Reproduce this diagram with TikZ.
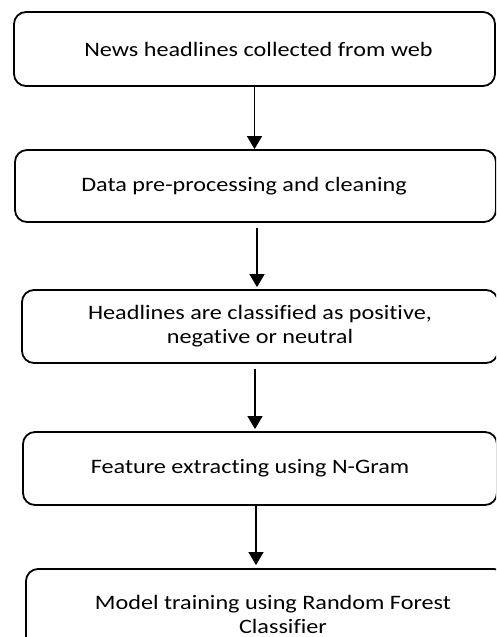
\documentclass[tikz,border=0pt]{standalone}
\usepackage{fontspec}
\setmainfont[FakeStretch=1.18,RawFeature={-liga}]{Carlito}
\usetikzlibrary{arrows.meta}
\tikzset{%
  stepbox/.style = {shape=rectangle, rounded corners=12pt,%
                    draw, line width=1.8pt, align=center, inner sep=0pt,%
                    font=\fontsize{20.5}{24}\selectfont},%
  flow/.style    = {-{Triangle[width=15pt,length=13pt]}, line width=1.1pt}%
}

\begin{document}
\begin{tikzpicture}[x=1pt,y=-1pt]
	\useasboundingbox (0,0) rectangle (496,637);
	\clip (0,0) rectangle (496,637);
	% the five steps
	\node [stepbox, minimum width=481pt, minimum height=74pt] (news) at (254.5,49)
		{\hspace*{8pt}News headlines collected from web};
	\node [stepbox, minimum width=481pt, minimum height=72pt] (clean) at (255.5,186)
		{Data pre-processing and cleaning\hspace*{23pt}};
	\node [stepbox, minimum width=476pt, minimum height=73pt] (classify) at (260,326.5)
		{Headlines are classified as positive,\\ negative or neutral};
	\node [stepbox, minimum width=474pt, minimum height=73pt] (ngram) at (260,468.5)
		{Feature extracting using N-Gram\hspace*{20pt}};
	\node [stepbox, minimum width=480pt, minimum height=90pt] (forest) at (266,614)
		{\hspace*{14pt}Model training using Random Forest\\ \hspace*{34pt}Classifier};
	% arrows between them
	\draw [flow] (news.south) -- (news.south |- clean.north);
	\draw [flow] ([xshift=1.5pt,yshift=-5pt]clean.south) -- ([xshift=1.5pt,yshift=2pt]clean.south |- classify.north);
	\draw [flow] ([xshift=-5pt,yshift=-5pt]classify.south) -- ([xshift=-5pt,yshift=2pt]classify.south |- ngram.north);
	\draw [flow] ([xshift=-4pt]ngram.south) -- ([xshift=-4pt,yshift=3pt]ngram.south |- forest.north);
\end{tikzpicture}
\end{document}
